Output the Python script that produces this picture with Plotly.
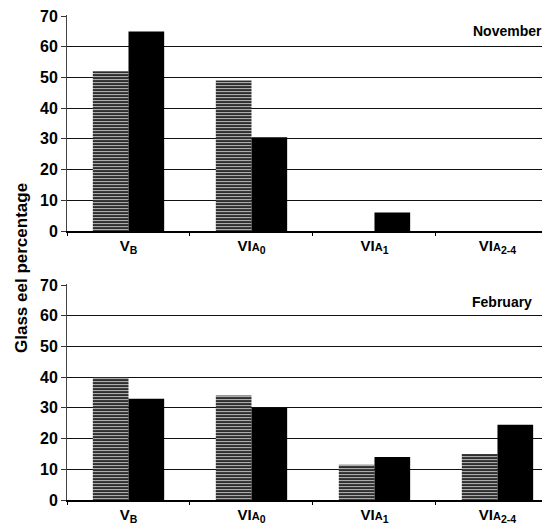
import plotly.graph_objects as go

# categories (maturation stages) and glass eel percentages
stages = [
    "V<sub>B</sub>",
    "VI<span style='font-size:11px'>A</span><sub>0</sub>",
    "VI<span style='font-size:11px'>A</span><sub>1</sub>",
    "VI<span style='font-size:11px'>A</span><sub>2-4</sub>",
]
november_grey = [52, 49, 0, 0]
november_black = [65, 30.5, 6, 0]
february_grey = [40, 34, 11.5, 15]
february_black = [33, 30, 14, 24.5]
y_ticks = [0, 10, 20, 30, 40, 50, 60, 70]

FONT = "Arial, Liberation Sans, sans-serif"
# the page body has an 8px margin, so the figure is drawn 8px in from the corner
OFF = 8
W, H = 550 - OFF, 529 - OFF
Y_TOP = 70.3  # a hair above 70 so the top gridline is not clipped


def py(page_y):
    """page pixel row -> paper fraction"""
    return 1 - (page_y - OFF) / H


fig = go.Figure()

panels = [
    ("x", "y", november_grey, november_black),
    ("x2", "y2", february_grey, february_black),
]
for xa, ya, grey, black in panels:
    fig.add_trace(
        go.Bar(
            x=stages, y=grey, xaxis=xa, yaxis=ya,
            marker=dict(
                color="#2e2e2e",
                line=dict(width=0),
                pattern=dict(shape="-", fgcolor="#c8c8c8", bgcolor="#2e2e2e",
                             size=3, solidity=0.3, fillmode="replace"),
            ),
            showlegend=False,
        )
    )
    fig.add_trace(
        go.Bar(
            x=stages, y=black, xaxis=xa, yaxis=ya,
            marker=dict(color="black", line=dict(width=0)),
            showlegend=False,
        )
    )

xaxis_style = dict(
    range=[-0.5, 3.427],
    showline=True, linecolor="black", linewidth=1.5,
    ticks="outside", ticklen=3, tickcolor="black", tickson="boundaries",
    showgrid=False, automargin=False,
    tickfont=dict(family=FONT, size=15, color="black", weight="bold"),
)
yaxis_style = dict(
    range=[0, Y_TOP], tickvals=y_ticks,
    showline=True, linecolor="#444", linewidth=1,
    ticks="outside", ticklen=5, tickcolor="#333",
    showgrid=True, gridcolor="#111", gridwidth=1.2,
    zeroline=False, automargin=False, ticklabeloverflow="allow",
    tickfont=dict(family=FONT, size=16, color="black", weight="bold"),
)

fig.update_layout(
    width=W, height=H,
    margin=dict(l=67 - OFF, r=0, t=0, b=0, autoexpand=False),
    paper_bgcolor="white", plot_bgcolor="white",
    barmode="group", bargap=0.42, bargroupgap=0,
    xaxis=dict(domain=[0, 1], anchor="y", **xaxis_style),
    yaxis=dict(domain=[py(231), py(15.1)], anchor="x", **yaxis_style),
    xaxis2=dict(domain=[0, 1], anchor="y2", **xaxis_style),
    yaxis2=dict(domain=[py(500), py(284.1)], anchor="x2", **yaxis_style),
    annotations=[
        dict(text="<b>November</b>", xref="paper", yref="paper",
             x=1, y=py(31), xanchor="right", yanchor="middle",
             xshift=-6, showarrow=False,
             font=dict(family=FONT, size=14, color="black")),
        dict(text="<b>February</b>", xref="paper", yref="paper",
             x=1, y=py(302), xanchor="right", yanchor="middle",
             xshift=-16, showarrow=False,
             font=dict(family=FONT, size=14, color="black")),
        dict(text="<b>Glass eel percentage</b>", xref="paper", yref="paper",
             x=-(67 - OFF) / (W - 67 + OFF), y=py(268),
             xanchor="center", yanchor="middle",
             xshift=21 - OFF, textangle=-90, showarrow=False,
             font=dict(family=FONT, size=17, color="black")),
    ],
)

fig.write_html("out.html")
